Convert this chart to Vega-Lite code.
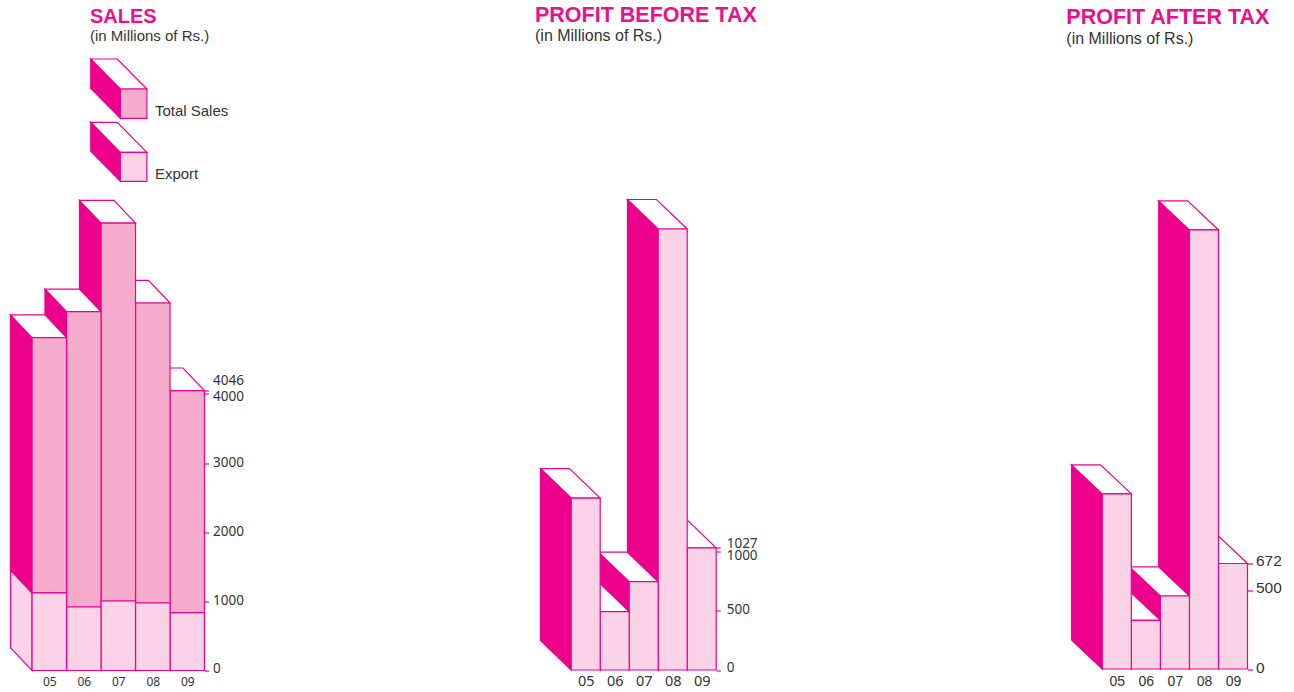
{
  "$schema": "https://vega.github.io/schema/vega-lite/v6.json",
  "background": "white",
  "padding": {"left": 7.5, "top": 4.5, "right": 0, "bottom": 0},
  "datasets": {
    "sales": [
      {"year": 9, "sales": 4046, "export": 836},
      {"year": 8, "sales": 5314, "export": 976},
      {"year": 7, "sales": 6470, "export": 1005},
      {"year": 6, "sales": 5188, "export": 918},
      {"year": 5, "sales": 4813, "export": 1121}
    ],
    "swatches": [
      {"label": "Total Sales", "left": 7.06, "right": 7.83, "base": 7984, "top": 8408, "shade": "#f4abcc"},
      {"label": "Export", "left": 7.06, "right": 7.83, "base": 7073, "top": 7493, "shade": "#fad3e6"}
    ],
    "pbt": [
      {"year": 9, "value": 1027},
      {"year": 8, "value": 3706},
      {"year": 7, "value": 742},
      {"year": 6, "value": 490},
      {"year": 5, "value": 1445}
    ],
    "pat": [
      {"year": 9, "value": 672},
      {"year": 8, "value": 2796},
      {"year": 7, "value": 465},
      {"year": 6, "value": 310},
      {"year": 5, "value": 1115}
    ]
  },
  "config": {
    "view": {"stroke": null},
    "line": {"stroke": "#ec008c", "strokeWidth": 1.2, "strokeJoin": "miter"}
  },
  "bounds": "flush",
  "spacing": 336,
  "hconcat": [
    {
      "width": 194,
      "height": 620,
      "data": {"name": "sales"},
      "title": {
        "text": "SALES",
        "subtitle": "(in Millions of Rs.)",
        "anchor": "start",
        "frame": "group",
        "dx": 79.5,
        "offset": 6.5,
        "font": "Liberation Sans",
        "fontSize": 20,
        "fontWeight": "bold",
        "color": "#ec0f8c",
        "subtitleFont": "Liberation Sans",
        "subtitleFontSize": 15,
        "subtitleColor": "#333333",
        "subtitlePadding": 2.5
      },
      "encoding": {
        "x": {
          "field": "vx",
          "type": "quantitative",
          "scale": {"domain": [3.875, 9.5], "nice": false, "zero": false},
          "axis": {
            "title": null,
            "orient": "bottom",
            "domain": false,
            "ticks": false,
            "grid": false,
            "values": [5, 6, 7, 8, 9],
            "format": "02d",
            "labelFont": "Noto Sans",
            "labelFontSize": 12,
            "labelColor": "#333333",
            "labelPadding": 5.5
          }
        },
        "y": {
          "field": "vy",
          "type": "quantitative",
          "scale": {"domain": [0, 8965], "nice": false},
          "axis": {
            "title": null,
            "orient": "right",
            "domain": false,
            "grid": false,
            "values": [0, 1000, 2000, 3000, 4000, 4046],
            "format": "d",
            "tickColor": "#ec008c",
            "tickSize": 4,
            "tickWidth": 1.2,
            "labelFont": "Noto Sans",
            "labelFontSize": 13.5,
            "labelColor": "#333333",
            "labelPadding": 4,
            "labelOverlap": false,
            "labelBound": false,
            "labelOffset": {"expr": "datum.value === 4046 ? -10.5 : datum.value === 0 ? -2 : datum.value === 4000 ? 3 : -1"}
          }
        },
        "detail": {"field": "year"},
        "order": {"field": "vi", "type": "quantitative"}
      },
      "layer": [
        {
          "transform": [
            {"calculate": "[datum.year-1.125, datum.year-0.5, datum.year-0.5, datum.year-1.125]", "as": "vx"},
            {"calculate": "[datum.sales+328, datum.sales, datum.export, datum.export+328]", "as": "vy"},
            {"calculate": "[0,1,2,3]", "as": "vi"},
            {"flatten": ["vx", "vy", "vi"]}
          ],
          "mark": {"type": "line", "interpolate": "linear-closed", "fill": "#ec008c"}
        },
        {
          "transform": [
            {"calculate": "[datum.year-1.125, datum.year-0.5, datum.year-0.5, datum.year-1.125]", "as": "vx"},
            {"calculate": "[datum.export+328, datum.export, 0, 328]", "as": "vy"},
            {"calculate": "[0,1,2,3]", "as": "vi"},
            {"flatten": ["vx", "vy", "vi"]}
          ],
          "mark": {"type": "line", "interpolate": "linear-closed", "fill": "#fad3e6"}
        },
        {
          "transform": [
            {"calculate": "[datum.year-0.5, datum.year+0.5, datum.year-0.125, datum.year-1.125]", "as": "vx"},
            {"calculate": "[datum.sales, datum.sales, datum.sales+328, datum.sales+328]", "as": "vy"},
            {"calculate": "[0,1,2,3]", "as": "vi"},
            {"flatten": ["vx", "vy", "vi"]}
          ],
          "mark": {"type": "line", "interpolate": "linear-closed", "fill": "#ffffff"}
        },
        {
          "transform": [
            {"calculate": "[datum.year-0.5, datum.year+0.5, datum.year+0.5, datum.year-0.5]", "as": "vx"},
            {"calculate": "[datum.export, datum.export, datum.sales, datum.sales]", "as": "vy"},
            {"calculate": "[0,1,2,3]", "as": "vi"},
            {"flatten": ["vx", "vy", "vi"]}
          ],
          "mark": {"type": "line", "interpolate": "linear-closed", "fill": "#f4abcc"}
        },
        {
          "transform": [
            {"calculate": "[datum.year-0.5, datum.year+0.5, datum.year+0.5, datum.year-0.5]", "as": "vx"},
            {"calculate": "[0, 0, datum.export, datum.export]", "as": "vy"},
            {"calculate": "[0,1,2,3]", "as": "vi"},
            {"flatten": ["vx", "vy", "vi"]}
          ],
          "mark": {"type": "line", "interpolate": "linear-closed", "fill": "#fad3e6"}
        },
        {
          "data": {"name": "swatches"},
          "transform": [
            {"calculate": "[datum.left-0.858, datum.left, datum.left, datum.left-0.858]", "as": "vx"},
            {"calculate": "[datum.top+434, datum.top, datum.base, datum.base+434]", "as": "vy"},
            {"calculate": "[0,1,2,3]", "as": "vi"},
            {"flatten": ["vx", "vy", "vi"]}
          ],
          "mark": {"type": "line", "interpolate": "linear-closed", "fill": "#ec008c"},
          "encoding": {"detail": {"field": "label"}}
        },
        {
          "data": {"name": "swatches"},
          "transform": [
            {"calculate": "[datum.left, datum.right, datum.right-0.858, datum.left-0.858]", "as": "vx"},
            {"calculate": "[datum.top, datum.top, datum.top+434, datum.top+434]", "as": "vy"},
            {"calculate": "[0,1,2,3]", "as": "vi"},
            {"flatten": ["vx", "vy", "vi"]}
          ],
          "mark": {"type": "line", "interpolate": "linear-closed", "fill": "#ffffff"},
          "encoding": {"detail": {"field": "label"}}
        },
        {
          "data": {"name": "swatches"},
          "transform": [
            {"calculate": "[datum.left, datum.right, datum.right, datum.left]", "as": "vx"},
            {"calculate": "[datum.base, datum.base, datum.top, datum.top]", "as": "vy"},
            {"calculate": "[0,1,2,3]", "as": "vi"},
            {"flatten": ["vx", "vy", "vi"]}
          ],
          "mark": {"type": "line", "interpolate": "linear-closed"},
          "encoding": {
            "detail": {"field": "label"},
            "fill": {"field": "shade", "type": "nominal", "scale": null}
          }
        },
        {
          "data": {"name": "swatches"},
          "mark": {"type": "text", "align": "left", "baseline": "middle", "dx": 8, "dy": -7, "font": "Liberation Sans", "fontSize": 15, "color": "#333333"},
          "encoding": {
            "x": {"field": "right", "type": "quantitative"},
            "y": {"field": "base", "type": "quantitative"},
            "text": {"field": "label"},
            "detail": null,
            "order": null
          }
        }
      ]
    },
    {
      "width": 175.7,
      "height": 619.5,
      "data": {"name": "pbt"},
      "title": {
        "text": "PROFIT BEFORE TAX",
        "subtitle": "(in Millions of Rs.)",
        "anchor": "start",
        "frame": "group",
        "dx": -5.5,
        "offset": 6.5,
        "font": "Liberation Sans",
        "fontSize": 21.5,
        "fontWeight": "bold",
        "color": "#ec0f8c",
        "subtitleFont": "Liberation Sans",
        "subtitleFontSize": 16,
        "subtitleColor": "#333333",
        "subtitlePadding": 1.5
      },
      "encoding": {
        "x": {
          "field": "vx",
          "type": "quantitative",
          "scale": {"domain": [3.441, 9.5], "nice": false, "zero": false},
          "axis": {
            "title": null,
            "orient": "bottom",
            "domain": false,
            "ticks": false,
            "grid": false,
            "values": [5, 6, 7, 8, 9],
            "format": "02d",
            "labelFont": "Noto Sans",
            "labelFontSize": 14.5,
            "labelColor": "#333333",
            "labelPadding": 4
          }
        },
        "y": {
          "field": "vy",
          "type": "quantitative",
          "scale": {"domain": [0, 5206], "nice": false},
          "axis": {
            "title": null,
            "orient": "right",
            "domain": false,
            "grid": false,
            "values": [0, 500, 1000, 1027],
            "format": "d",
            "tickColor": "#ec008c",
            "tickSize": 4,
            "tickWidth": 1.2,
            "labelFont": "Noto Sans",
            "labelFontSize": 13.5,
            "labelColor": "#333333",
            "labelPadding": 6,
            "labelOverlap": false,
            "labelBound": false,
            "labelOffset": {"expr": "datum.value === 1027 ? -4 : datum.value === 1000 ? 4 : datum.value === 0 ? -3 : -1"}
          }
        },
        "detail": {"field": "year"},
        "order": {"field": "vi", "type": "quantitative"}
      },
      "layer": [
        {
          "transform": [
            {"calculate": "[datum.year-1.559, datum.year-0.5, datum.year-0.5, datum.year-1.559]", "as": "vx"},
            {"calculate": "[datum.value+248, datum.value, 0, 248]", "as": "vy"},
            {"calculate": "[0,1,2,3]", "as": "vi"},
            {"flatten": ["vx", "vy", "vi"]}
          ],
          "mark": {"type": "line", "interpolate": "linear-closed", "fill": "#ec008c"}
        },
        {
          "transform": [
            {"calculate": "[datum.year-0.5, datum.year+0.5, datum.year-0.559, datum.year-1.559]", "as": "vx"},
            {"calculate": "[datum.value, datum.value, datum.value+248, datum.value+248]", "as": "vy"},
            {"calculate": "[0,1,2,3]", "as": "vi"},
            {"flatten": ["vx", "vy", "vi"]}
          ],
          "mark": {"type": "line", "interpolate": "linear-closed", "fill": "#ffffff"}
        },
        {
          "transform": [
            {"calculate": "[datum.year-0.5, datum.year+0.5, datum.year+0.5, datum.year-0.5]", "as": "vx"},
            {"calculate": "[0, 0, datum.value, datum.value]", "as": "vy"},
            {"calculate": "[0,1,2,3]", "as": "vi"},
            {"flatten": ["vx", "vy", "vi"]}
          ],
          "mark": {"type": "line", "interpolate": "linear-closed", "fill": "#fad3e6"}
        }
      ]
    },
    {
      "width": 195,
      "height": 618.5,
      "data": {"name": "pat"},
      "title": {
        "text": "PROFIT AFTER TAX",
        "subtitle": "(in Millions of Rs.)",
        "anchor": "start",
        "frame": "group",
        "dx": 13.8,
        "offset": 3.5,
        "font": "Liberation Sans",
        "fontSize": 21.5,
        "fontWeight": "bold",
        "color": "#ec0f8c",
        "subtitleFont": "Liberation Sans",
        "subtitleFontSize": 16,
        "subtitleColor": "#333333",
        "subtitlePadding": 2.5
      },
      "encoding": {
        "x": {
          "field": "vx",
          "type": "quantitative",
          "scale": {"domain": [2.785, 9.5], "nice": false, "zero": false},
          "axis": {
            "title": null,
            "orient": "bottom",
            "domain": false,
            "ticks": false,
            "grid": false,
            "values": [5, 6, 7, 8, 9],
            "format": "02d",
            "labelFont": "Liberation Sans",
            "labelFontSize": 14,
            "labelColor": "#333333",
            "labelPadding": 5
          }
        },
        "y": {
          "field": "vy",
          "type": "quantitative",
          "scale": {"domain": [0, 3939], "nice": false},
          "axis": {
            "title": null,
            "orient": "right",
            "domain": false,
            "grid": false,
            "values": [0, 500, 672],
            "format": "d",
            "tickColor": "#ec008c",
            "tickSize": 5,
            "tickWidth": 1.2,
            "labelFont": "Liberation Sans",
            "labelFontSize": 15.5,
            "labelColor": "#333333",
            "labelPadding": 3,
            "labelOverlap": false,
            "labelBound": false,
            "labelOffset": {"expr": "datum.value === 672 ? -3 : datum.value === 500 ? -3 : -2"}
          }
        },
        "detail": {"field": "year"},
        "order": {"field": "vi", "type": "quantitative"}
      },
      "layer": [
        {
          "transform": [
            {"calculate": "[datum.year-1.559, datum.year-0.5, datum.year-0.5, datum.year-1.559]", "as": "vx"},
            {"calculate": "[datum.value+185, datum.value, 0, 185]", "as": "vy"},
            {"calculate": "[0,1,2,3]", "as": "vi"},
            {"flatten": ["vx", "vy", "vi"]}
          ],
          "mark": {"type": "line", "interpolate": "linear-closed", "fill": "#ec008c"}
        },
        {
          "transform": [
            {"calculate": "[datum.year-0.5, datum.year+0.5, datum.year-0.559, datum.year-1.559]", "as": "vx"},
            {"calculate": "[datum.value, datum.value, datum.value+185, datum.value+185]", "as": "vy"},
            {"calculate": "[0,1,2,3]", "as": "vi"},
            {"flatten": ["vx", "vy", "vi"]}
          ],
          "mark": {"type": "line", "interpolate": "linear-closed", "fill": "#ffffff"}
        },
        {
          "transform": [
            {"calculate": "[datum.year-0.5, datum.year+0.5, datum.year+0.5, datum.year-0.5]", "as": "vx"},
            {"calculate": "[0, 0, datum.value, datum.value]", "as": "vy"},
            {"calculate": "[0,1,2,3]", "as": "vi"},
            {"flatten": ["vx", "vy", "vi"]}
          ],
          "mark": {"type": "line", "interpolate": "linear-closed", "fill": "#fad3e6"}
        }
      ]
    }
  ]
}
